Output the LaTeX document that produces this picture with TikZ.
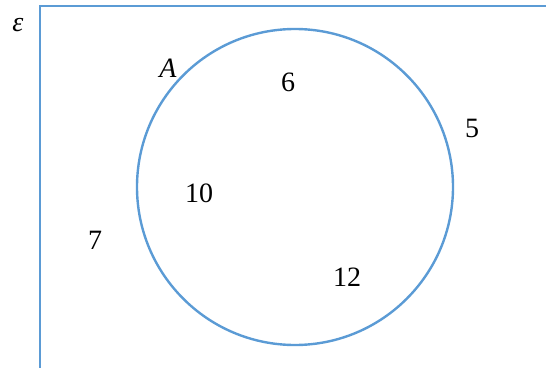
\documentclass[tikz,border=0pt]{standalone}
\usepackage{fontspec}
\setmainfont{Liberation Serif}
\usepackage{xcolor}
\definecolor{vennblue}{RGB}{91,155,213}

\begin{document}
\begin{tikzpicture}[x=1pt, y=-1pt,
    setline/.style={draw=vennblue, line width=2.4pt},
    num/.style={font=\fontsize{28}{30}\selectfont, inner sep=0pt}]
  \useasboundingbox (0,0) rectangle (546,367);
  \clip (0,0) rectangle (546,367);

  % universal set and set A
  \draw[setline] (40,6) rectangle (600,420);
  \node[setline, circle, minimum size=316pt, inner sep=0pt] (setA) at (295,187) {};

  % labels
  \node[num] (eps) at (18,25) {\textit{ε}};
  \node[num] (labA) at (168,68) {\textit{A}};

  % elements
  \node[num] (six) at (288,82) {6};
  \node[num] (ten) at (199,193) {10};
  \node[num] (twelve) at (347,277) {12};
  \node[num] (five) at (472,128) {5};
  \node[num] (seven) at (95,240) {7};
\end{tikzpicture}
\end{document}
